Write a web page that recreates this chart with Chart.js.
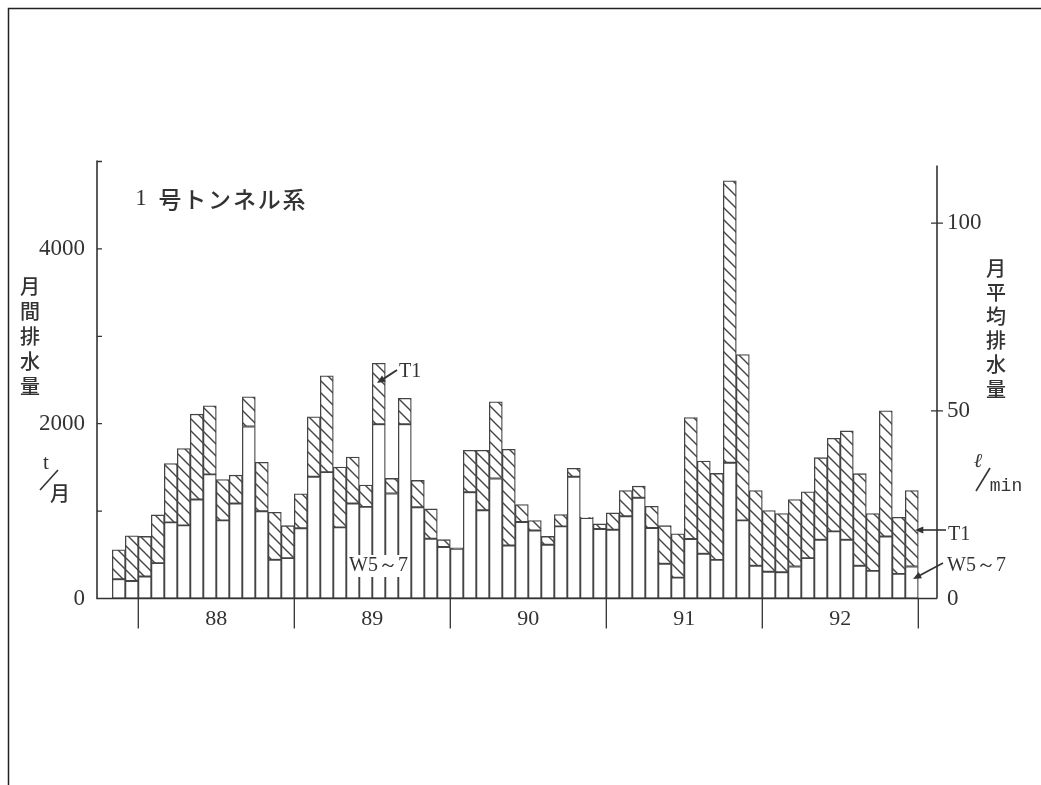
<!DOCTYPE html>
<html>
<head>
<meta charset="utf-8">
<script src="https://cdn.jsdelivr.net/npm/chart.js@4/dist/chart.umd.min.js"></script>
<style>
  html, body { margin: 0; padding: 0; background: #fff; }
  #wrap { position: relative; width: 1041px; height: 785px; }
  canvas { display: block; }
</style>
</head>
<body>
<div id="wrap"><canvas id="c" width="1041" height="785"></canvas></div>
<script>
// Monthly drainage, tunnel system No.1 (Nov 1987 – Dec 1992)
const monthLabels = [
  '87-11','87-12',
  '88-01','88-02','88-03','88-04','88-05','88-06','88-07','88-08','88-09','88-10','88-11','88-12',
  '89-01','89-02','89-03','89-04','89-05','89-06','89-07','89-08','89-09','89-10','89-11','89-12',
  '90-01','90-02','90-03','90-04','90-05','90-06','90-07','90-08','90-09','90-10','90-11','90-12',
  '91-01','91-02','91-03','91-04','91-05','91-06','91-07','91-08','91-09','91-10','91-11','91-12',
  '92-01','92-02','92-03','92-04','92-05','92-06','92-07','92-08','92-09','92-10','92-11','92-12'
];
const yearLabels = ['88','89','90','91','92'];

// T1: total monthly drainage (t/month)
const t1Totals = [
  557, 718,
  710, 956, 1543, 1715, 2109, 2205, 1362, 1411, 2308, 1558, 986, 833,
  1198, 2078, 2549, 1503, 1618, 1297, 2692, 1374, 2290, 1351, 1025, 673,
  580, 1695, 1695, 2250, 1707, 1075, 891, 710, 960, 1489, 930, 853,
  979, 1236, 1285, 1055, 833, 741, 2071, 1572, 1431, 4779, 2791, 1236,
  1006, 971, 1132, 1221, 1611, 1833, 1917, 1428, 971, 2147, 929, 1236
];
// W5~7: share of the drainage from wells W5–W7 (t/month)
const w57Values = [
  221, 201,
  251, 405, 871, 837, 1132, 1420, 894, 1086, 1968, 998, 443, 462,
  803, 1393, 1446, 814, 1086, 1048, 1994, 1201, 1994, 1044, 684, 589,
  570, 1216, 1009, 1373, 607, 876, 779, 615, 825, 1393, 920, 795,
  787, 940, 1152, 807, 397, 239, 680, 511, 442, 1554, 894, 374,
  307, 301, 366, 462, 672, 768, 672, 374, 316, 710, 282, 366
];

const leftTickLabels = [0, 2000, 4000];        // t/month
const leftTickMarks = [1000, 2000, 3000, 4000, 5000];
const rightTickValues = [0, 50, 100];          // l/min

// upper (hatched) segment = T1 minus the W5~7 part
const hatchedPart = t1Totals.map((t, i) => t - w57Values[i]);

const yearFirst = yearLabels.map(y => monthLabels.indexOf(y + '-01'));
const yearLast = yearLabels.map(y => monthLabels.indexOf(y + '-12'));
const yearCenters = yearFirst.map((f, i) => (f + yearLast[i]) / 2);
const yearBounds = [yearFirst[0] - 0.5, ...yearLast.map(l => l + 0.5)];

const INK = '#333';
const SERIF = '"Liberation Serif", "DejaVu Serif", serif';
const JP = '"Noto Sans CJK JP", sans-serif';

function makeHatch() {
  const s = 12;
  const c = document.createElement('canvas');
  c.width = s; c.height = s;
  const g = c.getContext('2d');
  g.fillStyle = '#fff';
  g.fillRect(0, 0, s, s);
  g.strokeStyle = '#444';
  g.lineWidth = 1.4;
  g.beginPath();
  g.moveTo(-2, -2); g.lineTo(s + 2, s + 2);
  g.moveTo(-2, s - 2); g.lineTo(2, s + 2);
  g.moveTo(s - 2, -2); g.lineTo(s + 2, 2);
  g.stroke();
  return g.createPattern(c, 'repeat');
}

function arrow(ctx, x1, y1, x2, y2, head) {
  const a = Math.atan2(y2 - y1, x2 - x1);
  ctx.beginPath();
  ctx.moveTo(x1, y1);
  ctx.lineTo(x2 - Math.cos(a) * head * 0.6, y2 - Math.sin(a) * head * 0.6);
  ctx.stroke();
  ctx.beginPath();
  ctx.moveTo(x2, y2);
  ctx.lineTo(x2 - head * Math.cos(a - 0.4), y2 - head * Math.sin(a - 0.4));
  ctx.lineTo(x2 - head * Math.cos(a + 0.4), y2 - head * Math.sin(a + 0.4));
  ctx.closePath();
  ctx.fill();
}

function verticalText(ctx, text, x, y0, step) {
  [...text].forEach((ch, i) => ctx.fillText(ch, x, y0 + i * step));
}

const decorations = {
  id: 'decorations',
  afterDatasetsDraw(chart) {
    const { ctx, chartArea: ca, scales } = chart;
    const xs = scales.x, ys = scales.y, ys2 = scales.y2;
    ctx.save();
    ctx.strokeStyle = INK;
    ctx.fillStyle = INK;
    ctx.lineWidth = 1.6;

    // axes
    ctx.beginPath();
    ctx.moveTo(ca.left, ys.getPixelForValue(5000) - 1);
    ctx.lineTo(ca.left, ca.bottom);
    ctx.lineTo(ca.right, ca.bottom);
    ctx.moveTo(ca.right, ca.top + 4);
    ctx.lineTo(ca.right, ca.bottom);
    ctx.stroke();

    // left ticks point inward
    ctx.lineWidth = 1.3;
    ctx.beginPath();
    leftTickMarks.forEach(v => {
      const y = ys.getPixelForValue(v);
      ctx.moveTo(ca.left, y);
      ctx.lineTo(ca.left + 5, y);
    });
    // right ticks cross the axis
    rightTickValues.filter(v => v > 0).forEach(v => {
      const y = ys2.getPixelForValue(v);
      ctx.moveTo(ca.right - 6, y);
      ctx.lineTo(ca.right + 6, y);
    });
    // year boundaries below the time axis
    yearBounds.forEach(v => {
      const x = xs.getPixelForValue(v);
      ctx.moveTo(x, ca.bottom);
      ctx.lineTo(x, ca.bottom + 30);
    });
    ctx.stroke();

    // title
    ctx.textAlign = 'center';
    ctx.textBaseline = 'middle';
    ctx.font = '23px ' + SERIF;
    ctx.fillText('1', 141, 199);
    ctx.font = '500 23px ' + JP;
    [...'号トンネル系'].forEach((ch, i) => ctx.fillText(ch, 170 + i * 24.8, 199));

    // left axis title and unit
    ctx.font = '500 20px ' + JP;
    verticalText(ctx, '月間排水量', 30, 286, 25);
    ctx.font = '21px ' + SERIF;
    ctx.fillText('t', 46, 463);
    ctx.lineWidth = 1.6;
    ctx.beginPath();
    ctx.moveTo(40, 490); ctx.lineTo(58, 470);
    ctx.stroke();
    ctx.font = '500 20px ' + JP;
    ctx.fillText('月', 60, 493);

    // right axis title and unit
    ctx.font = '500 20px ' + JP;
    verticalText(ctx, '月平均排水量', 996, 268, 24.2);
    ctx.font = 'italic 20px ' + SERIF;
    ctx.fillText('ℓ', 978, 462);
    ctx.beginPath();
    ctx.moveTo(976, 491); ctx.lineTo(990, 468);
    ctx.stroke();
    ctx.font = '18px "Liberation Mono", monospace';
    ctx.fillText('min', 1006, 486);

    // series call-outs
    ctx.font = '20px ' + SERIF;
    ctx.textAlign = 'left';
    ctx.fillText('T1', 399, 372);
    ctx.lineWidth = 2;
    arrow(ctx, 397, 370, 377, 383, 9);

    ctx.fillStyle = '#fff';
    ctx.fillRect(349, 555, 58, 22);
    ctx.fillStyle = INK;
    ctx.fillText('W5～7', 349, 566);

    ctx.fillText('T1', 948, 535);
    ctx.lineWidth = 1.6;
    arrow(ctx, 946, 530, 915, 530, 9);
    ctx.fillText('W5～7', 947, 566);
    arrow(ctx, 943, 563, 913, 579, 9);

    ctx.restore();
  },
  afterDraw(chart) {
    const { ctx } = chart;
    ctx.save();
    ctx.strokeStyle = '#222';
    ctx.lineWidth = 1.5;
    ctx.beginPath();
    ctx.moveTo(1041, 8.5);
    ctx.lineTo(8.5, 8.5);
    ctx.lineTo(8.5, 785);
    ctx.stroke();
    ctx.restore();
  }
};

const tickFont = { family: SERIF, size: 23 };

new Chart(document.getElementById('c'), {
  type: 'bar',
  data: {
    datasets: [
      {
        label: 'W5～7',
        data: w57Values.map((v, i) => ({ x: i, y: v })),
        backgroundColor: '#fff',
        borderColor: '#444',
        borderWidth: 1.3,
        borderSkipped: false
      },
      {
        label: 'T1',
        data: hatchedPart.map((v, i) => ({ x: i, y: v })),
        backgroundColor: makeHatch(),
        borderColor: '#444',
        borderWidth: 1.3,
        borderSkipped: false
      }
    ]
  },
  options: {
    responsive: false,
    animation: false,
    devicePixelRatio: 1,
    layout: { padding: { top: 161.5, left: 0, right: 0, bottom: 0 } },
    datasets: { bar: { categoryPercentage: 1, barPercentage: 1 } },
    plugins: { legend: { display: false }, tooltip: { enabled: false } },
    scales: {
      x: {
        type: 'linear',
        offset: false,
        min: -1.677,
        max: 62.938,
        stacked: true,
        grid: { display: false, drawTicks: false, offset: false },
        border: { display: false },
        afterBuildTicks: s => { s.ticks = yearCenters.map(v => ({ value: v })); },
        afterFit: s => { s.height = 785 - 598.5; },
        ticks: {
          autoSkip: false,
          maxRotation: 0,
          padding: 8,
          color: INK,
          font: { family: SERIF, size: 22 },
          callback: (v, i) => yearLabels[i]
        }
      },
      y: {
        position: 'left',
        min: 0,
        max: 5000,
        stacked: true,
        grid: { display: false, drawTicks: false },
        border: { display: false },
        afterBuildTicks: s => { s.ticks = leftTickLabels.map(v => ({ value: v })); },
        afterFit: s => { s.width = 97; },
        ticks: { padding: 12, color: INK, font: tickFont, callback: v => String(v) }
      },
      y2: {
        position: 'right',
        min: 0,
        max: 116.4,
        grid: { display: false, drawTicks: false },
        border: { display: false },
        afterBuildTicks: s => { s.ticks = rightTickValues.map(v => ({ value: v })); },
        afterFit: s => { s.width = 1041 - 937; },
        ticks: { padding: 10, color: INK, font: tickFont, callback: v => String(v) }
      }
    }
  },
  plugins: [decorations]
});
</script>
</body>
</html>
